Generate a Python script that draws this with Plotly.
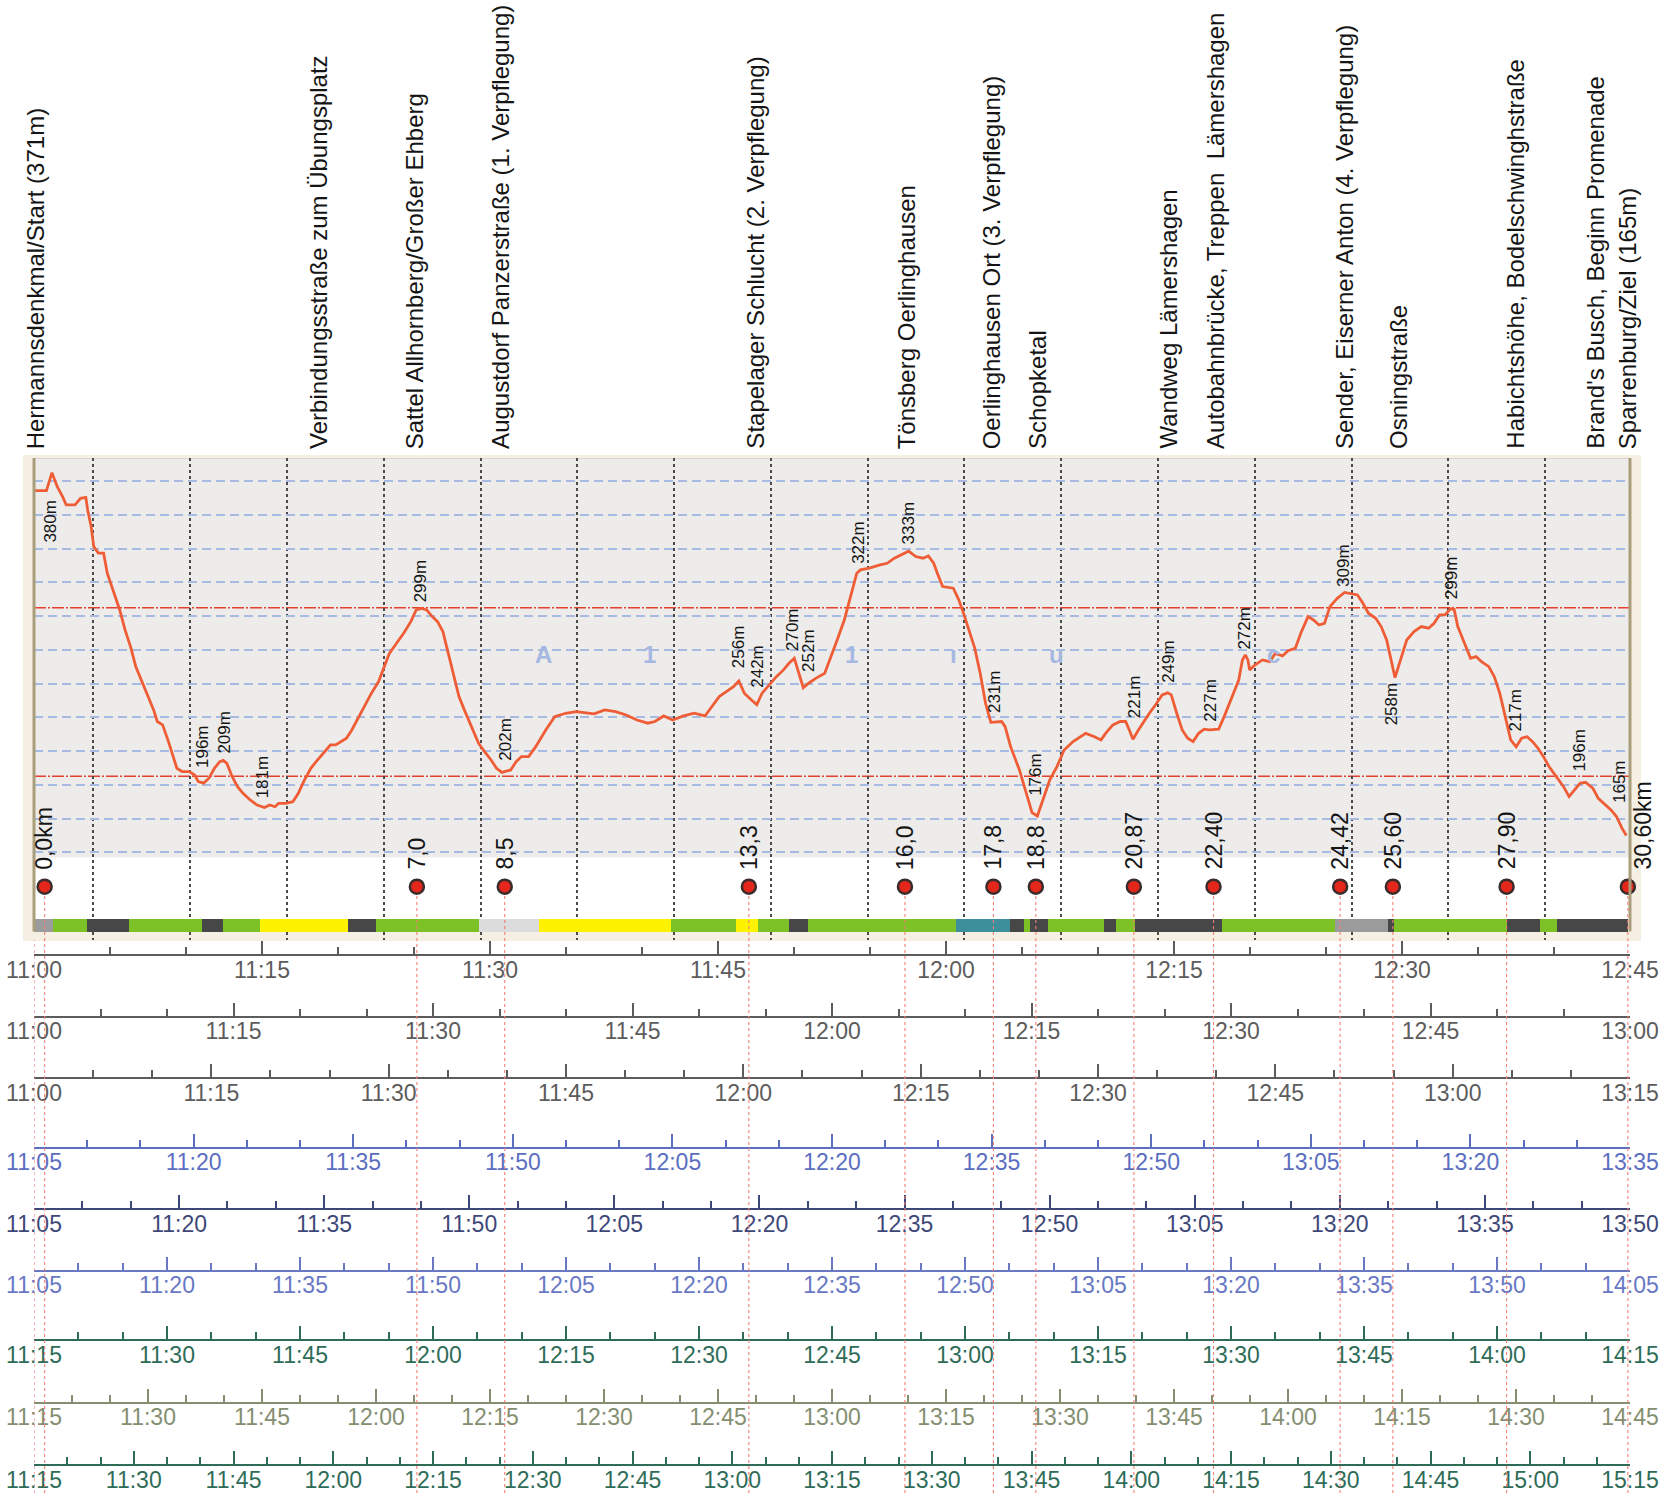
import plotly.graph_objects as go

W, H = 1663, 1493
ML, MR = 34, 33
PW = W - ML - MR
FONT = "Liberation Sans, Arial, sans-serif"

# ---------------- data ----------------
# elevation profile: minutes after 11:00 (reference pace) / metres
prof_t = [
    0.05, 0.82, 1.18, 1.53, 1.88, 2.12, 2.70, 3.06, 3.41, 3.53, 3.76, 3.93, 4.23, 4.58, 4.82, 5.29, 5.64, 5.99,
    6.35, 6.70, 7.05, 7.40, 7.87, 8.11, 8.46, 8.81, 9.16, 9.40, 9.75, 10.22, 10.57, 10.81, 11.16, 11.51, 11.87,
    12.22, 12.45, 12.69, 13.04, 13.39, 13.75, 14.22, 14.68, 15.16, 15.51, 15.86, 16.09, 16.56, 17.03, 17.39,
    17.74, 18.21, 18.56, 19.03, 19.50, 19.85, 20.21, 20.56, 20.91, 21.26, 21.73, 22.20, 22.67, 23.02, 23.38,
    23.85, 24.32, 24.79, 25.14, 25.49, 25.84, 26.20, 26.55, 26.90, 27.25, 27.61, 27.96, 28.31, 28.78, 29.25,
    29.72, 30.07, 30.43, 30.78, 31.36, 31.72, 32.07, 32.54, 33.01,
    33.32, 33.67, 34.26, 34.97, 35.67, 36.38, 36.85, 37.55, 38.26, 38.96, 39.67, 40.38, 40.85, 41.43, 42.02,
    42.73, 43.43, 44.14, 44.61, 45.08, 45.55, 46.02, 46.37, 46.73, 47.20, 47.55, 47.90, 48.37, 48.84, 49.31,
    49.67, 50.02, 50.25, 50.61, 50.96, 51.43, 52.02, 52.37, 52.84, 53.31, 53.78, 54.13, 54.37, 54.96, 55.66,
    56.13, 56.60, 57.07, 57.54, 58.01, 58.48, 58.84, 59.19, 59.43, 59.78, 60.48, 60.84, 61.19, 61.54, 61.89,
    62.25, 62.60, 62.95, 63.66, 63.89, 64.25, 64.83, 65.30, 65.66, 66.01, 66.36, 66.83, 67.30, 67.77, 68.36,
    69.19, 69.77, 70.20,
    70.50, 70.98, 71.46, 71.82, 72.06, 72.30, 72.66, 73.02, 73.38, 73.86, 74.22, 74.58, 74.82, 75.18, 75.54,
    75.90, 76.26, 76.62, 76.98, 77.34, 77.94, 78.30, 78.66, 79.02, 79.26, 79.50, 79.69, 79.86, 79.98, 80.34,
    80.82, 81.30, 81.66, 82.14, 82.50, 82.98, 83.34, 83.82, 84.18, 84.54, 84.90, 85.26, 85.74, 86.22, 86.59,
    87.07, 87.43, 87.79, 88.27, 88.63, 88.99, 89.35, 89.54, 89.83, 90.31, 90.79, 91.27, 91.75, 92.11, 92.47,
    92.83, 93.19, 93.43, 93.67, 94.03, 94.51, 94.87, 95.23, 95.71, 96.07, 96.43, 96.79, 97.15, 97.51, 97.87,
    98.23, 98.59, 98.95, 99.31, 99.67, 100.15, 100.63, 100.99, 101.35, 101.71, 102.07, 102.55, 102.91, 103.39,
    103.75, 104.11, 104.47, 104.76]
prof_elev = [
    369.4, 369.4, 380.0, 371.7, 365.8, 360.9, 360.9, 364.8, 365.4, 357.9, 348.0, 336.2, 332.3, 332.3, 320.4,
    308.5, 298.6, 286.8, 276.9, 265.0, 257.1, 249.3, 239.4, 232.5, 230.5, 221.6, 211.7, 204.8, 202.8, 202.8,
    200.8, 196.9, 196.0, 198.9, 204.8, 208.7, 209.5, 207.7, 199.8, 193.9, 189.9, 186.0, 183.0, 181.5, 183.0,
    182.0, 184.0, 184.0, 185.0, 189.9, 196.9, 204.8, 208.7, 213.7, 218.6, 218.6, 220.6, 222.6, 227.5, 233.4,
    241.3, 249.3, 256.2, 265.0, 272.9, 278.9, 284.8, 291.7, 298.6, 299.5, 298.6, 294.7, 291.7, 285.8, 272.9,
    259.1, 247.3, 239.4, 229.5, 219.6, 213.7, 209.7, 204.8, 202.3, 203.8, 208.7, 211.7, 211.7, 217.6,
    222.6, 227.5, 235.4, 237.4, 238.4, 237.4, 237.0, 239.4, 238.4, 236.4, 233.4, 231.5, 232.5, 235.8, 233.4,
    235.8, 237.4, 235.8, 241.3, 247.3, 250.2, 253.2, 256.5, 249.3, 245.3, 242.5, 249.3, 254.2, 259.1, 263.1,
    267.0, 270.0, 263.1, 252.5, 255.2, 258.1, 261.1, 269.0, 280.8, 292.7, 308.5, 320.4, 322.4, 323.4, 325.3,
    326.3, 329.3, 331.3, 333.5, 330.3, 329.3, 330.6, 326.3, 320.4, 312.5, 311.5, 304.6, 295.7, 285.8, 276.0,
    261.1, 243.3, 232.0, 232.5, 229.5, 217.6, 203.8, 189.9, 178.5, 176.5, 186.0, 197.9, 205.8, 215.6, 220.6,
    225.5, 223.5, 221.6,
    225.5, 230.5, 232.5, 232.5, 227.5, 222.0, 227.5, 232.5, 237.4, 243.3, 248.3, 249.5, 248.3, 237.4, 227.5,
    222.6, 220.6, 225.5, 228.0, 227.5, 228.0, 235.4, 243.3, 252.2, 257.1, 269.0, 272.0, 269.0, 263.1, 266.1,
    269.0, 268.0, 272.9, 271.4, 274.5, 275.9, 284.8, 294.7, 292.7, 289.7, 290.7, 300.6, 305.5, 309.0, 308.5,
    307.5, 302.6, 296.7, 293.7, 288.8, 280.8, 265.0, 258.5, 267.0, 280.8, 285.8, 288.8, 287.8, 290.7, 295.7,
    295.7, 299.3, 299.0, 288.8, 280.8, 270.0, 271.0, 268.0, 265.0, 259.1, 249.3, 235.4, 221.6, 217.5, 222.6,
    223.5, 220.6, 216.6, 211.7, 205.8, 199.8, 193.9, 188.0, 192.0, 195.9, 196.5, 193.0, 187.0, 183.0, 180.1,
    176.2, 169.3, 165.0]

wp_names = [
    "Hermannsdenkmal/Start (371m)",
    "Verbindungsstraße zum Übungsplatz",
    "Sattel Allhornberg/Großer Ehberg",
    "Augustdorf Panzerstraße (1. Verpflegung)",
    "Stapelager Schlucht (2. Verpflegung)",
    "Tönsberg Oerlinghausen",
    "Oerlinghausen Ort (3. Verpflegung)",
    "Schopketal",
    "Wandweg Lämershagen",
    "Autobahnbrücke, Treppen  Lämershagen",
    "Sender, Eiserner Anton (4. Verpflegung)",
    "Osningstraße",
    "Habichtshöhe, Bodelschwinghstraße",
    "Brand's Busch, Beginn Promenade",
    "Sparrenburg/Ziel (165m)",
]
wp_t = [0.12, 18.68, 25.02, 30.65, 47.41, 57.39, 62.98, 66.02, 74.61, 77.69, 86.19, 89.73, 97.41, 102.72, 104.85]

km_text = ["0,0km", "7,0", "8,5", "13,3", "16,0", "17,8", "18,8", "20,87", "22,40", "24,42", "25,60", "27,90", "30,60km"]
km_t = [0.70, 25.19, 30.97, 47.03, 57.30, 63.12, 65.91, 72.36, 77.60, 85.93, 89.40, 96.88, 104.86]

elev_lbl = [380, 196, 209, 181, 299, 202, 256, 242, 270, 252, 322, 333, 231, 176, 221, 249, 227, 272, 309, 258,
            299, 217, 196, 165]
elev_lbl_t = [1.08, 11.08, 12.56, 15.03, 25.43, 31.00, 46.37, 47.55, 49.95, 50.91, 54.20, 57.50, 63.19, 65.89,
              72.42, 74.65, 77.39, 79.62, 86.18, 89.30, 93.31, 97.46, 101.71, 104.35]

surf_start = [0, 1.26, 3.49, 6.28, 11.02, 12.42, 14.86, 20.65, 22.47, 29.30, 33.21, 41.91, 46.17, 47.63, 49.67,
              50.93, 60.63, 64.19, 65.13, 65.51, 66.70, 70.40, 71.20, 72.42, 78.14, 85.60, 89.10, 89.45, 96.92,
              99.11, 100.17]
surf_end = surf_start[1:] + [104.90]
surf_kind = ["grey", "green", "dark", "green", "dark", "green", "yellow", "dark", "green", "light", "yellow",
             "green", "yellow", "green", "dark", "green", "teal", "dark", "green", "dark", "green", "dark",
             "green", "dark", "green", "grey", "dark", "green", "dark", "green", "dark"]

grid_t = [3.91, 10.28, 16.64, 23.01, 29.38, 35.75, 42.11, 48.48, 54.85, 61.21, 67.58, 73.95, 80.32, 86.68,
          93.05, 99.42]
elev_grid = [155, 175, 195, 215, 235, 255, 275, 295, 315, 335, 355, 375]
ref_lines = [200, 300]

tl_start = ["11:00", "11:00", "11:00", "11:05", "11:05", "11:05", "11:15", "11:15", "11:15"]
tl_end = ["12:45", "13:00", "13:15", "13:35", "13:50", "14:05", "14:15", "14:45", "15:15"]

# ---------------- styling ----------------
SURF_COLORS = {"grey": "#9b9b9b", "green": "#7cc227", "dark": "#474747", "yellow": "#fff200",
               "light": "#dcdcdc", "teal": "#3d8f9c"}
tl_colors = ["#5c5c5c", "#5c5c5c", "#5c5c5c", "#5b6ebf", "#3e4878", "#6878c4", "#2e6c58", "#848e71", "#2e6c58"]
tl_line_px = [954, 1015.5, 1077, 1146.5, 1208, 1269.5, 1339, 1401.5, 1464]
lbl_shift = [-25, 13, 6, 8, 5, 10, 12, 16, 5, 15, 5, 5, 9, 19, 21, 9, 7, 3, 4, -2, 8, 14, 10, 30]
lbl_anchor = ["top" if i in (0, 19) else "bottom" for i in range(len(elev_lbl))]

TOP_PX, BOT_PX = 458, 940
Y_TOP, Y_BOT = 388.7, 103.0
GREY_BOT = 152.0
BAR_LO, BAR_HI = 108.0, 115.4
DOT_Y = 134.6


def py(px):
    return 1 - px / H


def e2px(e):
    return TOP_PX + (Y_TOP - e) * (BOT_PX - TOP_PX) / (Y_TOP - Y_BOT)


fig = go.Figure()

# surface bar
fig.add_trace(go.Bar(
    x=[e - s for s, e in zip(surf_start, surf_end)], base=surf_start,
    y=[(BAR_LO + BAR_HI) / 2] * len(surf_start), orientation="h", width=BAR_HI - BAR_LO,
    marker=dict(color=[SURF_COLORS[k] for k in surf_kind], line=dict(width=0)),
    showlegend=False, hoverinfo="skip"))

# profile
fig.add_trace(go.Scatter(x=prof_t, y=prof_elev, mode="lines",
                         line=dict(color="#ef5d37", width=2.8), showlegend=False, hoverinfo="skip"))

# km dots
fig.add_trace(go.Scatter(x=km_t, y=[DOT_Y] * len(km_t), mode="markers", cliponaxis=False,
                         marker=dict(size=14, color="#e4261b", line=dict(color="#3a2c2c", width=2.5)),
                         showlegend=False, hoverinfo="skip"))

DAY = "2024-05-05 "
# carrier traces so that each time scale is drawn
for i, (s, e) in enumerate(zip(tl_start, tl_end)):
    k = i + 2
    fig.add_trace(go.Scatter(x=[DAY + s, DAY + e], y=[0.5, 0.5], mode="lines", xaxis=f"x{k}", yaxis=f"y{k}",
                             line=dict(width=0, color="rgba(0,0,0,0)"), showlegend=False, hoverinfo="skip"))

shapes = []
# beige frame
shapes.append(dict(type="rect", xref="paper", yref="paper", x0=-11 / PW, x1=1 + 11 / PW,
                   y0=py(BOT_PX + 1), y1=py(TOP_PX - 3), fillcolor="#f5f0e3", line_width=0, layer="below"))
shapes.append(dict(type="rect", xref="paper", yref="y", x0=0, x1=1, y0=BAR_LO, y1=GREY_BOT,
                   fillcolor="white", line_width=0, layer="below"))
shapes.append(dict(type="rect", xref="paper", yref="y", x0=0, x1=1, y0=GREY_BOT, y1=Y_TOP,
                   fillcolor="#edecea", line_width=0, layer="below"))
shapes.append(dict(type="rect", xref="paper", yref="y", x0=0, x1=1, y0=Y_BOT, y1=BAR_LO,
                   fillcolor="#f5f0e3", line_width=0, layer="between"))
shapes.append(dict(type="line", xref="paper", yref="y", x0=0, x1=1, y0=Y_TOP, y1=Y_TOP,
                   line=dict(color="#d9d6cf", width=2), layer="between"))
for v in ref_lines:
    shapes.append(dict(type="line", xref="paper", yref="y", x0=0, x1=1, y0=v, y1=v,
                       line=dict(color="#e4412c", width=1.5, dash="12px,2px,2px,2px"), layer="between"))
for xp in (0, 1):
    shapes.append(dict(type="line", xref="paper", yref="y", x0=xp, x1=xp, y0=BAR_LO, y1=Y_TOP,
                       line=dict(color="#aa9d7b", width=3), layer="above"))
# red dotted connectors
shapes.append(dict(type="line", xref="x", yref="paper", x0=0, x1=0, y0=0, y1=py(BOT_PX),
                   line=dict(color="#f27f75", width=1.1, dash="dot"), layer="above"))
for t in km_t:
    shapes.append(dict(type="line", xref="x", yref="paper", x0=t, x1=t, y0=0, y1=py(e2px(DOT_Y) + 7),
                       line=dict(color="#f27f75", width=1.1, dash="dot"), layer="above"))

ann = []
for name, t in zip(wp_names, wp_t):
    ann.append(dict(x=t, y=py(TOP_PX), xref="x", yref="paper", text=name, textangle=-90, showarrow=False,
                    xanchor="center", yanchor="bottom", yshift=7,
                    font=dict(family=FONT, size=24, color="#151515")))
for i, (txt, t) in enumerate(zip(km_text, km_t)):
    ann.append(dict(x=t, y=DOT_Y, xref="x", yref="y", text=txt, textangle=-90, showarrow=False,
                    xanchor="center", yanchor="bottom", yshift=15, xshift=15 if i == len(km_t) - 1 else 0,
                    font=dict(family=FONT, size=23, color="#151515")))
for v, t, sh, an in zip(elev_lbl, elev_lbl_t, lbl_shift, lbl_anchor):
    ann.append(dict(x=t, y=v, xref="x", yref="y", text=f"{v}m", textangle=-90, showarrow=False,
                    xanchor="center", yanchor=an, yshift=sh,
                    font=dict(family=FONT, size=17, color="#151515")))
for g, t in zip(["A", "1", "1", "ı", "u", "c"], [33.55, 40.49, 53.78, 60.48, 67.30, 81.54]):
    ann.append(dict(x=t, y=272, xref="x", yref="y", text=f"<b>{g}</b>", showarrow=False,
                    font=dict(family=FONT, size=24, color="#a6b8e2")))

layout = dict(
    width=W, height=H, margin=dict(l=ML, r=MR, t=0, b=0, autoexpand=False),
    paper_bgcolor="white", plot_bgcolor="white", showlegend=False,
    shapes=shapes, annotations=ann, bargap=0,
    xaxis=dict(domain=[0, 1], range=[0, 105], showticklabels=False, ticks="", zeroline=False,
               showline=False, tickmode="array", tickvals=grid_t, showgrid=True, gridcolor="#4a4a4a",
               griddash="dot", gridwidth=1.5),
    yaxis=dict(domain=[py(BOT_PX), py(TOP_PX)], range=[Y_BOT, Y_TOP], showticklabels=False, ticks="",
               zeroline=False, showline=False, tickmode="array", tickvals=elev_grid, showgrid=True,
               gridcolor="#a7bbe2", griddash="9px,5px", gridwidth=2),
)

for i, (s, e) in enumerate(zip(tl_start, tl_end)):
    k = i + 2
    c = tl_colors[i]
    L = tl_line_px[i]
    layout[f"xaxis{k}"] = dict(
        domain=[0, 1], anchor=f"y{k}", type="date", range=[DAY + s, DAY + e],
        tickmode="linear", tick0=DAY + s, dtick=15 * 60 * 1000, tickformat="%H:%M",
        ticks="inside", ticklen=13, tickwidth=1.5, tickcolor=c, ticklabelstandoff=-6,
        showline=True, linecolor=c, linewidth=2, showgrid=False, zeroline=False,
        tickfont=dict(family=FONT, size=23, color=c),
        minor=dict(dtick=5 * 60 * 1000, ticks="inside", ticklen=7, tickwidth=1.5, tickcolor=c, showgrid=False),
    )
    layout[f"yaxis{k}"] = dict(domain=[py(L), py(L - 14)], anchor=f"x{k}", range=[0, 1], visible=False,
                               fixedrange=True)

fig.update_layout(**layout)
fig.write_html("out.html", config={"displayModeBar": False},
               post_script="document.body.style.margin='0';document.body.style.overflow='hidden';")
